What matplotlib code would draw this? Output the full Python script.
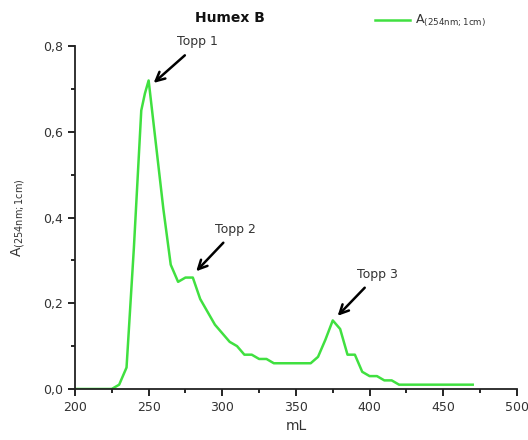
import numpy as np
import matplotlib.pyplot as plt
from matplotlib.ticker import MultipleLocator, FuncFormatter

# elution volume (mL) and absorbance
ml = [200, 225, 230, 235, 240, 245, 247.5, 250, 255, 260, 265, 270, 275, 280,
      285, 290, 295, 300, 305, 310, 315, 320, 325, 330, 335, 360, 365, 370,
      375, 380, 385, 390, 395, 400, 405, 410, 415, 420, 470]
absorb = [0.0, 0.0, 0.01, 0.05, 0.33, 0.65, 0.69, 0.72, 0.57, 0.42, 0.29, 0.25,
          0.26, 0.26, 0.21, 0.18, 0.15, 0.13, 0.11, 0.10, 0.08, 0.08, 0.07,
          0.07, 0.06, 0.06, 0.075, 0.115, 0.16, 0.14, 0.08, 0.08, 0.04, 0.03,
          0.03, 0.02, 0.02, 0.01, 0.01]

peak_labels = ["Topp 1", "Topp 2", "Topp 3"]
peak_tips = [(252, 0.71), (281, 0.27), (377, 0.166)]
peak_text = [(283, 0.81), (309, 0.373), (405, 0.268)]

green = "#40e040"
dark = "#333333"

fig = plt.figure(figsize=(5.28, 4.4), dpi=100)
ax = fig.add_axes([0.142, 0.116, 0.837, 0.779])
ax.plot(ml, absorb, color=green, lw=1.8, label=r"A$_{\mathrm{(254nm;1cm)}}$")

ax.set_xlim(200, 500)
ax.set_ylim(0, 0.8)
ax.spines["top"].set_visible(False)
ax.spines["right"].set_visible(False)
for s in ("left", "bottom"):
    ax.spines[s].set_linewidth(1.3)
    ax.spines[s].set_color("#222222")

ax.xaxis.set_major_locator(MultipleLocator(50))
ax.xaxis.set_minor_locator(MultipleLocator(25))
ax.yaxis.set_major_locator(MultipleLocator(0.2))
ax.yaxis.set_minor_locator(MultipleLocator(0.1))
ax.yaxis.set_major_formatter(FuncFormatter(lambda v, p: "{:.1f}".format(v).replace(".", ",")))
ax.tick_params(which="major", length=5, width=1.2, labelsize=9, labelcolor=dark, direction="out")
ax.tick_params(which="minor", length=3, width=1.2, direction="out")

ax.set_xlabel("mL", fontsize=10, color=dark)
ax.set_ylabel(r"A$_{\mathrm{(254nm;1cm)}}$", fontsize=10, color=dark, labelpad=12)

for lab, tip, txt in zip(peak_labels, peak_tips, peak_text):
    ax.annotate("", xy=tip, xytext=(txt[0] - 7, txt[1] - 0.027),
                arrowprops=dict(arrowstyle="->", lw=1.8, color="black",
                                mutation_scale=16))
    ax.text(txt[0], txt[1], lab, ha="center", va="center", fontsize=9,
            color=dark, clip_on=False)

fig.text(0.436, 0.958, "Humex B", ha="center", va="center",
         fontsize=10, fontweight="bold", color="#111111")
ax.legend(loc="upper right", bbox_to_anchor=(0.955, 1.13), frameon=False,
          fontsize=9, handlelength=2.8, handletextpad=0.4, labelcolor=dark)

fig.savefig("out.png", dpi=100)
